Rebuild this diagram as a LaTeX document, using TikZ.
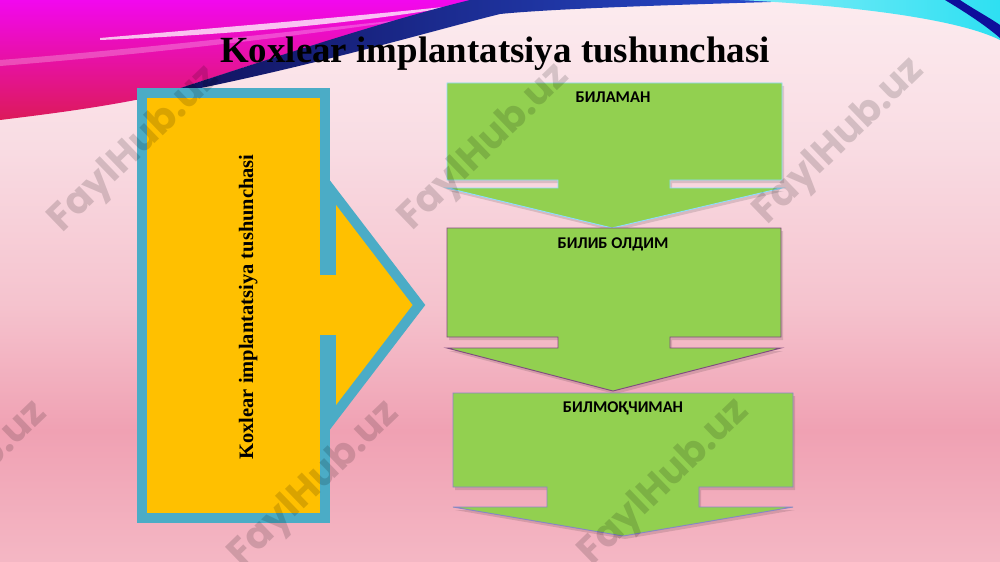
\documentclass[tikz,border=0pt]{standalone}
\usepackage{fontspec}
\setmainfont{Liberation Serif}
\newfontfamily\cyrfont{Carlito}
\newfontfamily\wmfont{Poppins}
\usetikzlibrary{calc}
\definecolor{bgT}{HTML}{FCEBEF}
\definecolor{bgA}{HTML}{F9DCE3}
\definecolor{bgB}{HTML}{F5C3CE}
\definecolor{bgC}{HTML}{F0A1B3}
\definecolor{bgD}{HTML}{F4B7C4}
\definecolor{calloutblue}{HTML}{4BACC6}
\definecolor{calloutyellow}{HTML}{FFC000}
\definecolor{boxgreen}{HTML}{92D050}
\definecolor{magA}{HTML}{F208EE}
\definecolor{magB}{HTML}{DC1A5A}
\definecolor{navy}{HTML}{141470}
\definecolor{swblue}{HTML}{2A50D8}
\definecolor{cyanA}{HTML}{2EE0F2}
\pgfdeclareverticalshading{bgpink}{100bp}{color(0bp)=(bgD); color(25bp)=(bgD); color(36.7bp)=(bgC); color(48bp)=(bgB); color(62bp)=(bgA); color(75bp)=(bgT); color(100bp)=(bgT)}
\tikzset{
  greenarrow/.style={fill=boxgreen, line width=0.8pt},
  arrshadow/.style={fill=black, opacity=0.12},
  arrlabel/.style={anchor=base, font=\cyrfont\bfseries\fontsize{14}{16}\selectfont},
  watermark/.style={rotate=44, text=black, opacity=0.15, font=\wmfont\bfseries\fontsize{33}{36}\selectfont}
}
\begin{document}
\begin{tikzpicture}[x=0.03cm,y=-0.03cm]
\useasboundingbox (0,0) rectangle (1000,562);
% background
\shade[shading=bgpink] (0,0) rectangle (1000,562);
% top-left swoosh
\shade[top color=magA, bottom color=magB] (0,0) -- (480,0) .. controls (380,22) and (260,62) .. (160,95) .. controls (100,108) and (40,115) .. (0,120) -- cycle;
\fill[white, opacity=0.75] (100,38) .. controls (250,25) and (380,14) .. (462,5) .. controls (380,20) and (250,34) .. (100,40) -- cycle;
\fill[white, opacity=0.25] (0,60) .. controls (150,48) and (300,30) .. (420,18) .. controls (300,36) and (150,54) .. (0,66) -- cycle;
\shade[left color=navy!80!black, right color=swblue] (150,98) .. controls (260,62) and (380,22) .. (470,0) -- (840,0) .. controls (700,4) and (560,8) .. (500,14) .. controls (420,34) and (300,70) .. (150,98) -- cycle;
% top-right swoosh
\shade[left color=cyanA!60, right color=cyanA] (740,0) -- (1000,0) -- (1000,40) .. controls (960,20) and (860,6) .. (740,0) -- cycle;
\fill[navy!70!blue] (945,0) -- (960,0) .. controls (975,10) and (990,18) .. (1000,25) -- (1000,38) .. controls (985,25) and (965,12) .. (945,0) -- cycle;
% title
\node[anchor=base, font=\bfseries\fontsize{31.5}{36}\selectfont] (title) at (495,63) {Koxlear implantatsiya tushunchasi};
% left callout
\draw[fill=calloutyellow, draw=calloutblue, line width=8.5pt, line join=miter]
  (142,93) -- (325,93) -- (325,270) -- (331,270) -- (331,190) -- (419,305)
  -- (331,420) -- (331,340) -- (325,340) -- (325,518) -- (142,518) -- cycle;
\node[rotate=90, anchor=base, font=\bfseries\fontsize{17.5}{20}\selectfont] (vlabel) at (253,307) {Koxlear implantatsiya tushunchasi};
% green arrows
\fill[arrshadow] ($(447,83)+(2,3)$) -- ++(335,0) -- ++(0,97) -- ++(-112,0) -- ++(0,8) -- ++(112,0) -- ++(-170,40) -- ++(-165,-40) -- ++(111,0) -- ++(0,-8) -- ++(-111,0) -- cycle;
\draw[greenarrow, draw=blue!30!cyan!45!white] (447,83) -- (782,83) -- (782,180) -- (670,180) -- (670,188) -- (782,188) -- (612,228) -- (447,188) -- (558,188) -- (558,180) -- (447,180) -- cycle;
\fill[arrshadow] ($(447,228)+(2,3)$) -- ++(334,0) -- ++(0,109) -- ++(-111,0) -- ++(0,11) -- ++(111,0) -- ++(-168,43) -- ++(-166,-43) -- ++(111,0) -- ++(0,-11) -- ++(-111,0) -- cycle;
\draw[greenarrow, draw=violet!40!gray] (447,228) -- (781,228) -- (781,337) -- (670,337) -- (670,348) -- (781,348) -- (613,391) -- (447,348) -- (558,348) -- (558,337) -- (447,337) -- cycle;
\fill[arrshadow] ($(453,393)+(2,3)$) -- ++(340,0) -- ++(0,94) -- ++(-94,0) -- ++(0,20) -- ++(94,0) -- ++(-170,29) -- ++(-170,-29) -- ++(94,0) -- ++(0,-20) -- ++(-94,0) -- cycle;
\draw[greenarrow, draw=blue!35!gray!70!white] (453,393) -- (793,393) -- (793,487) -- (699,487) -- (699,507) -- (793,507) -- (623,536) -- (453,507) -- (547,507) -- (547,487) -- (453,487) -- cycle;
\node[arrlabel] (l1) at (613,103) {БИЛАМАН};
\node[arrlabel] (l2) at (613,248) {БИЛИБ ОЛДИМ};
\node[arrlabel] (l3) at (623,412) {БИЛМОҚЧИМАН};
% watermarks
\node[watermark] (w1) at (135,150) {FaylHub.uz};
\node[watermark] (w2) at (485,148) {FaylHub.uz};
\node[watermark] (w3) at (840,142) {FaylHub.uz};
\node[watermark] (w4) at (-37,485) {FaylHub.uz};
\node[watermark] (w5) at (315,485) {FaylHub.uz};
\node[watermark] (w6) at (665,483) {FaylHub.uz};
\end{tikzpicture}
\end{document}
